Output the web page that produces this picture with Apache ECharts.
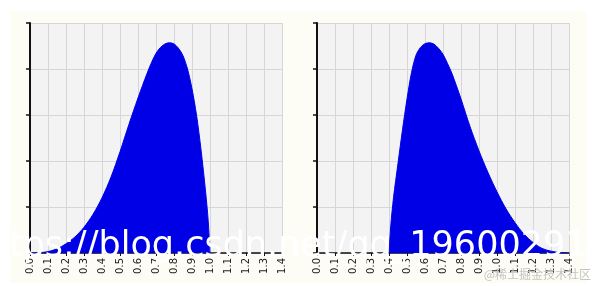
<!DOCTYPE html>
<html><head><meta charset="utf-8">
<script src="https://cdn.jsdelivr.net/npm/echarts/dist/echarts.min.js"></script>
<style>html,body{margin:0;padding:0;background:#fff}#c{width:596px;height:286px}</style>
</head><body><div id="c"></div>
<script>
// x tick labels shared by both panels
const tickLabels = ['0.0','0.1','0.2','0.3','0.4','0.5','0.6','0.7','0.8','0.9','1.0','1.1','1.2','1.3','1.4'];

// left panel density
const leftX = [0, 0.05, 0.1, 0.15, 0.2, 0.25, 0.3, 0.35, 0.4, 0.45, 0.5, 0.525, 0.55, 0.575, 0.6, 0.625, 0.65, 0.675, 0.7, 0.725, 0.75, 0.775, 0.8, 0.825, 0.85, 0.875, 0.9, 0.925, 0.95, 0.975, 0.99, 1.0];
const leftY = [0, 0.005, 0.03, 0.09, 0.2, 0.35, 0.56, 0.84, 1.2, 1.65, 2.2, 2.5, 2.8, 3.09, 3.37, 3.64, 3.9, 4.14, 4.34, 4.47, 4.545, 4.57, 4.545, 4.45, 4.29, 4.0, 3.57, 3.0, 2.25, 1.35, 0.7, 0];

// right panel density
const rightX = [0.4, 0.41, 0.425, 0.45, 0.475, 0.5, 0.525, 0.55, 0.575, 0.6, 0.625, 0.65, 0.675, 0.7, 0.725, 0.75, 0.775, 0.8, 0.85, 0.9, 0.95, 1.0, 1.05, 1.1, 1.15, 1.2, 1.25, 1.3, 1.35, 1.4];
const rightY = [0, 0.6, 1.2, 1.95, 2.68, 3.35, 3.92, 4.3, 4.47, 4.55, 4.57, 4.54, 4.45, 4.32, 4.12, 3.9, 3.63, 3.35, 2.75, 2.22, 1.75, 1.33, 0.96, 0.66, 0.41, 0.23, 0.1, 0.04, 0.01, 0];

const watermark = 'https://blog.csdn.net/qq_19600291';
const siteMark = '@稀土掘金技术社区';

const pairs = (xs, ys) => xs.map((x, i) => [x, ys[i]]);
const BLUE = '#0000e6';
const GRIDC = '#d6d6d6';

function xAxis(gi) {
  return {
    type: 'value', gridIndex: gi, min: 0, max: 1.4, interval: 0.1,
    axisLine: { show: true, onZero: false, lineStyle: { color: '#111', width: 1.5 } },
    axisTick: { show: true, length: 3, lineStyle: { color: '#111' } },
    axisLabel: { rotate: 90, fontSize: 10, color: '#1a1a1a', margin: 5, fontFamily: 'DejaVu Sans',
      formatter: v => tickLabels[Math.round(v * 10)] },
    splitLine: { show: true, lineStyle: { color: GRIDC, width: 1 } }
  };
}
function yAxis(gi) {
  return {
    type: 'value', gridIndex: gi, min: 0, max: 5, interval: 1,
    axisLine: { show: true, lineStyle: { color: '#111', width: 2 } },
    axisTick: { show: true, length: 4, lineStyle: { color: '#111', width: 1.5 } },
    axisLabel: { show: false },
    splitLine: { show: true, lineStyle: { color: GRIDC, width: 1 } }
  };
}
function series(gi, data) {
  return {
    type: 'line', xAxisIndex: gi, yAxisIndex: gi, data: data, symbol: 'none', smooth: 0.3,
    lineStyle: { color: BLUE, width: 1 },
    areaStyle: { color: BLUE, opacity: 1 },
    z: 3, silent: true, animation: false
  };
}

const chart = echarts.init(document.getElementById('c'), null, { renderer: 'canvas' });
chart.setOption({
  animation: false,
  backgroundColor: '#ffffff',
  grid: [
    { left: 30, top: 23, width: 252, height: 230, show: true, backgroundColor: '#f3f3f3', borderWidth: 0 },
    { left: 317, top: 23, width: 252, height: 230, show: true, backgroundColor: '#f3f3f3', borderWidth: 0 }
  ],
  xAxis: [xAxis(0), xAxis(1)],
  yAxis: [yAxis(0), yAxis(1)],
  series: [series(0, pairs(leftX, leftY)), series(1, pairs(rightX, rightY))],
  graphic: [
    { type: 'rect', z: -10, silent: true, shape: { x: 10, y: 11, width: 576, height: 272 }, style: { fill: '#fefdf5' } },
    { type: 'text', z: 100, silent: true, x: -27, y: 247,
      style: { text: watermark, font: '35px "DejaVu Sans"', fill: '#ffffff', verticalAlign: 'middle',
        shadowBlur: 2, shadowColor: 'rgba(0,0,0,0.35)' } },
    { type: 'text', z: 100, silent: true, x: 591, y: 274,
      style: { text: siteMark, font: '12px "Noto Sans CJK SC"', fill: '#c4c4c4', align: 'right', verticalAlign: 'middle' } }
  ]
});
</script>
</body></html>
